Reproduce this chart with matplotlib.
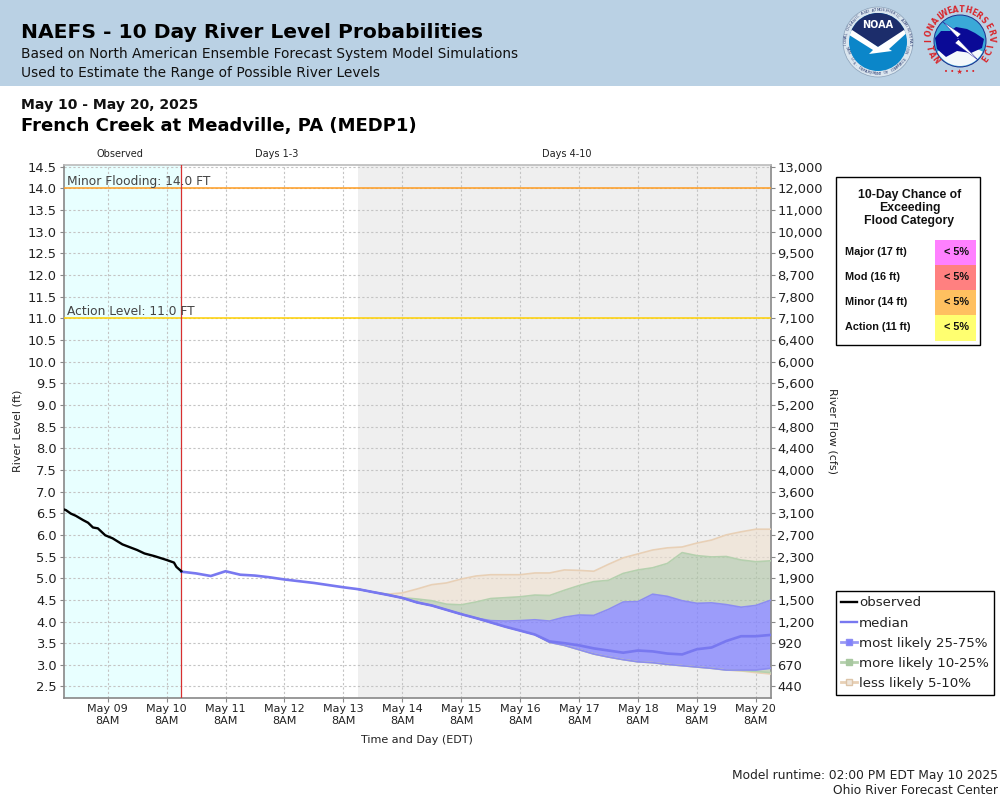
import numpy as np
import pandas as pd
import matplotlib
matplotlib.use('Agg')
import matplotlib.pyplot as plt
from matplotlib.lines import Line2D
from matplotlib.patches import Rectangle, Circle, Polygon, Wedge

# observed stage, hours after May 8 2PM
obs_hours = [0, 1, 3, 5, 8, 10, 12, 14, 17, 20, 24, 30, 33, 37, 42, 45, 46, 48]
obs_level = [6.59, 6.57, 6.49, 6.44, 6.34, 6.28, 6.17, 6.15, 5.99, 5.92, 5.78, 5.65,
             5.57, 5.51, 5.42, 5.36, 5.26, 5.16]

# 6 hourly forecast from May 10 2PM
median = [5.15, 5.11, 5.05, 5.16, 5.08, 5.06, 5.02, 4.97, 4.93, 4.89, 4.84, 4.79,
          4.746, 4.68, 4.615, 4.545, 4.44, 4.37, 4.27, 4.17, 4.08, 3.98, 3.88, 3.79, 3.70,
          3.54, 3.50, 3.45, 3.38, 3.33, 3.28, 3.33, 3.31, 3.26, 3.24, 3.36, 3.40, 3.55,
          3.66, 3.66, 3.69]

# ensemble bands start May 13 2PM
p95 = [4.746, 4.68, 4.63, 4.66, 4.75, 4.85, 4.89, 4.98, 5.05, 5.08, 5.08, 5.08, 5.12, 5.12,
       5.19, 5.18, 5.16, 5.32, 5.47, 5.56, 5.65, 5.70, 5.72, 5.81, 5.88, 6.00, 6.07, 6.13, 6.13]
p90 = [4.746, 4.68, 4.63, 4.55, 4.52, 4.48, 4.40, 4.385, 4.45, 4.53, 4.55, 4.57, 4.61, 4.60,
       4.72, 4.83, 4.92, 4.95, 5.11, 5.19, 5.24, 5.34, 5.59, 5.52, 5.49, 5.50, 5.42, 5.38, 5.40]
p75 = [4.746, 4.68, 4.615, 4.545, 4.44, 4.37, 4.27, 4.17, 4.08, 4.02, 4.01, 4.02, 4.04, 4.01,
       4.10, 4.15, 4.14, 4.28, 4.45, 4.46, 4.63, 4.58, 4.48, 4.42, 4.43, 4.39, 4.33, 4.37, 4.49]
p25 = [4.746, 4.68, 4.615, 4.545, 4.44, 4.37, 4.27, 4.17, 4.08, 3.98, 3.88, 3.79, 3.70, 3.52,
       3.45, 3.35, 3.25, 3.18, 3.12, 3.07, 3.05, 3.01, 2.98, 2.95, 2.92, 2.88, 2.88, 2.88, 2.92]
p10 = [4.746, 4.68, 4.615, 4.545, 4.44, 4.37, 4.27, 4.17, 4.08, 3.98, 3.88, 3.79, 3.70, 3.52,
       3.45, 3.35, 3.25, 3.18, 3.12, 3.07, 3.05, 3.01, 2.98, 2.95, 2.92, 2.88, 2.87, 2.85, 2.82]
p05 = [4.746, 4.68, 4.615, 4.545, 4.44, 4.37, 4.27, 4.17, 4.08, 3.98, 3.88, 3.79, 3.70, 3.52,
       3.45, 3.35, 3.25, 3.18, 3.12, 3.07, 3.05, 3.01, 2.98, 2.95, 2.92, 2.88, 2.86, 2.82, 2.79]

stage_ticks = [14.5, 14.0, 13.5, 13.0, 12.5, 12.0, 11.5, 11.0, 10.5, 10.0, 9.5, 9.0, 8.5,
               8.0, 7.5, 7.0, 6.5, 6.0, 5.5, 5.0, 4.5, 4.0, 3.5, 3.0, 2.5]
flow_labels = ['13,000', '12,000', '11,000', '10,000', '9,500', '8,700', '7,800', '7,100',
               '6,400', '6,000', '5,600', '5,200', '4,800', '4,400', '4,000', '3,600',
               '3,100', '2,700', '2,300', '1,900', '1,500', '1,200', '920', '670', '440']

flood_names = ['Major (17 ft)', 'Mod (16 ft)', 'Minor (14 ft)', 'Action (11 ft)']
flood_chance = ['< 5%', '< 5%', '< 5%', '< 5%']
flood_colors = ['#ff80ff', '#ff8080', '#ffc060', '#ffff70']

start = pd.Timestamp('2025-05-08 14:00')
runtime = pd.Timestamp('2025-05-10 14:00')
band_start = pd.Timestamp('2025-05-13 14:00')
end = pd.Timestamp('2025-05-20 14:00')

obs_times = [start + pd.Timedelta(hours=h) for h in obs_hours]
fc_times = pd.date_range(runtime, end, freq='6h')
band_times = pd.date_range(band_start, end, freq='6h')
tick_times = pd.date_range('2025-05-09 08:00', '2025-05-20 08:00', freq='1D')

BLUE = '#7878f0'
W, H = 1000, 800

fig = plt.figure(figsize=(10, 8), dpi=100)

# everything outside the plot is placed in pixels on this overlay
ov = fig.add_axes([0, 0, 1, 1], zorder=5)
ov.set_xlim(0, W)
ov.set_ylim(H, 0)
ov.axis('off')
ov.patch.set_alpha(0)

ax = fig.add_axes([63.5 / W, 1 - 697.5 / H, 707 / W, 532.5 / H], zorder=2)
ax.set_xlim(start, end)
ax.set_ylim(2.246, 14.536)

ax.axvspan(start, runtime, color='#e8ffff', lw=0, zorder=0)
ax.axvspan(band_start, end, color='#efefef', lw=0, zorder=0)
ax.grid(True, color='#c4c4c4', ls=(0, (2, 2)), lw=0.8, zorder=1)
ax.set_axisbelow(True)

ax.fill_between(band_times, p90, p95, color='#efe0cf', alpha=0.6, lw=0, zorder=2)
ax.fill_between(band_times, p05, p10, color='#efe0cf', alpha=0.6, lw=0, zorder=2)
ax.fill_between(band_times, p75, p90, color='#aec5a4', alpha=0.6, lw=0, zorder=2)
ax.fill_between(band_times, p10, p25, color='#aec5a4', alpha=0.6, lw=0, zorder=2)
ax.fill_between(band_times, p25, p75, color='#8080ff', alpha=0.75, lw=0, zorder=2)
for vals in (p95, p05):
    ax.plot(band_times, vals, color='#e8d0b6', lw=1.2, zorder=3)
for vals in (p90, p10):
    ax.plot(band_times, vals, color='#b5d0ae', lw=1.2, zorder=3)
for vals in (p75, p25):
    ax.plot(band_times, vals, color='#8c8cf2', lw=1.2, zorder=3)

ax.axhline(14.0, color='#ff9c20', lw=1.1, zorder=4)
ax.axhline(11.0, color='#ffd000', lw=1.1, zorder=4)
ax.axvline(runtime, color='#d83030', lw=0.9, zorder=4)

ax.plot(fc_times, median, color=BLUE, lw=1.9, zorder=5, solid_joinstyle='miter')
ax.plot(obs_times, obs_level, color='black', lw=1.7, zorder=6)

ax.set_yticks(stage_ticks)
ax.set_yticklabels(['%.1f' % v for v in stage_ticks], fontsize=9.4, color='#222222')
ax.set_xticks(tick_times)
ax.set_xticklabels([t.strftime('%b %d') + '\n8AM' for t in tick_times], fontsize=8,
                   color='#222222', linespacing=1.2)
ax.tick_params(axis='both', length=3, width=0.8, color='#888888', pad=2)

for side in ('left', 'right', 'bottom'):
    ax.spines[side].set_color('#888888')
    ax.spines[side].set_linewidth(1.2)
ax.spines['top'].set_color('#bbbbbb')
ax.spines['top'].set_linewidth(1.2)

ax2 = ax.twinx()
ax2.set_ylim(ax.get_ylim())
ax2.set_yticks(stage_ticks)
ax2.set_yticklabels(flow_labels, fontsize=9.4, color='#222222')
ax2.tick_params(axis='y', length=3, width=0.8, color='#888888', pad=2)
for s in ax2.spines.values():
    s.set_visible(False)

ax.text(0.005, 14.0, 'Minor Flooding: 14.0 FT', transform=ax.get_yaxis_transform(),
        fontsize=8.85, color='#444444', va='bottom', zorder=7)
ax.text(0.005, 11.0, 'Action Level: 11.0 FT', transform=ax.get_yaxis_transform(),
        fontsize=8.85, color='#444444', va='bottom', zorder=7)

# header
ov.add_patch(Rectangle((0, 0), W, 86, color='#bad1e4', lw=0))
ov.text(21, 33, 'NAEFS - 10 Day River Level Probabilities', fontsize=14.6, fontweight='bold',
        va='center', color='black')
ov.text(21, 54, 'Based on North American Ensemble Forecast System Model Simulations',
        fontsize=9.95, va='center', color='#111111')
ov.text(21, 73, 'Used to Estimate the Range of Possible River Levels', fontsize=9.95,
        va='center', color='#111111')
ov.text(21, 105, 'May 10 - May 20, 2025', fontsize=10.1, fontweight='bold', va='center', color='#111111')
ov.text(21, 126, 'French Creek at Meadville, PA (MEDP1)', fontsize=12.95, fontweight='bold',
        va='center', color='black')


def ring_text(s, cx, cy, r, a0, a1, **kw):
    # letters along an arc, angles in degrees clockwise from the top
    for ch, a in zip(s, np.linspace(a0, a1, len(s))):
        t = np.radians(a)
        rot = -a if -95 < ((a + 180) % 360 - 180) < 95 else 180 - a
        ov.text(cx + r * np.sin(t), cy - r * np.cos(t), ch, rotation=rot, ha='center',
                va='center', rotation_mode='anchor', **kw)


# NOAA logo
nx, ny = 878, 42
ov.add_patch(Circle((nx, ny), 35, fc='#dbe6ef', ec='#8aa0b8', lw=0.5))
disc = Circle((nx, ny), 29, fc='#0b86c9', lw=0)
ov.add_patch(disc)
navy = Polygon([[845, 8], [911, 8], [911, 27], [878, 47], [845, 27]], fc='#1c2d6b', lw=0)
ov.add_patch(navy)
navy.set_clip_path(disc)
bird = Polygon([[846, 26], [878, 47], [910, 26], [910, 30], [889, 49], [892, 51], [869, 54],
                [873, 50], [846, 33]], fc='white', lw=0)
ov.add_patch(bird)
bird.set_clip_path(disc)
ov.text(nx, 25, 'NOAA', color='white', fontsize=7, fontweight='bold', ha='center', va='center')
ring_text('NATIONAL OCEANIC AND ATMOSPHERIC ADMINISTRATION', nx, ny, 32, -108, 108,
          fontsize=2.8, color='#2a3a70')
ring_text('U.S. DEPARTMENT OF COMMERCE', nx, ny, 32, 238, 122, fontsize=2.8, color='#2a3a70')

# NWS logo
wx, wy = 960, 41
sky = Circle((wx, wy), 26, fc='#3aa9d8', ec='#1c2d8b', lw=0.7)
ov.add_patch(sky)
ov.add_patch(Wedge((wx, wy), 25, 25, 155, fc='#f4f8fb', lw=0))
ov.add_patch(Polygon([[935, 38], [941, 31], [950, 31], [956, 27], [967, 29], [975, 33], [984, 39],
                      [982, 48], [971, 53], [957, 51], [946, 57], [937, 49]], fc='#0a0a96', lw=0))
ov.add_patch(Polygon([[943, 22], [961, 34], [957, 38], [978, 60], [955, 43], [959, 39]],
                     fc='white', ec='#0a0a96', lw=0.3))
ring_text('NATIONAL', wx, wy, 31.5, -128, -38, fontsize=5.6, fontweight='bold', color='#d8262c')
ring_text('WEATHER', wx, wy, 31.5, -30, 36, fontsize=5.6, fontweight='bold', color='#d8262c')
ring_text('SERVICE', wx, wy, 31.5, 48, 125, fontsize=5.6, fontweight='bold', color='#d8262c')
ov.text(wx, 72, '\u2022 \u2022 \u2605 \u2022 \u2022', color='#d8262c', fontsize=5, ha='center', va='center')

# period labels and axis titles
ov.text(120, 154, 'Observed', fontsize=7, ha='center', va='center', color='#222222')
ov.text(277, 154, 'Days 1-3', fontsize=7, ha='center', va='center', color='#222222')
ov.text(567, 154, 'Days 4-10', fontsize=7, ha='center', va='center', color='#222222')
ov.text(18, 431, 'River Level (ft)', fontsize=8, rotation=90, ha='center', va='center', color='#222222')
ov.text(832, 431, 'River Flow (cfs)', fontsize=8, rotation=-90, ha='center', va='center', color='#222222')
ov.text(417, 740, 'Time and Day (EDT)', fontsize=8, ha='center', va='center', color='#222222')

ov.text(998, 775, 'Model runtime: 02:00 PM EDT May 10 2025', fontsize=8.83, ha='right', va='center', color='#222222')
ov.text(998, 791, 'Ohio River Forecast Center', fontsize=8.83, ha='right', va='center', color='#222222')

# flood category panel
ov.add_patch(Rectangle((836, 176.5), 144, 168.5, fc='white', ec='black', lw=1))
for i, line in enumerate(['10-Day Chance of', 'Exceeding', 'Flood Category']):
    ov.text(909.5, 195 + 13 * i, line, family='Liberation Sans', fontweight='bold', fontsize=8.8,
            ha='center', va='center', color='#111111')
for i, name in enumerate(flood_names):
    y0 = 240 + 25 * i
    ov.add_patch(Rectangle((935, y0), 41, 25.5, fc=flood_colors[i], lw=0))
    ov.text(845, y0 + 12, name, family='Liberation Sans', fontweight='bold', fontsize=7.8,
            va='center', color='#111111')
    ov.text(957, y0 + 12, flood_chance[i], family='Liberation Sans', fontweight='bold', fontsize=7.8,
            ha='center', va='center', color='#111111')

# legend
handles = [
    Line2D([], [], color='black', lw=1.7),
    Line2D([], [], color=BLUE, lw=1.7),
    Line2D([], [], color='#9a9af5', lw=2, marker='s', ms=5, mfc='#8080ff', mec='#8c8cf2'),
    Line2D([], [], color='#b5d0ae', lw=2, marker='s', ms=5, mfc='#a8c8a0', mec='#a8c8a0'),
    Line2D([], [], color='#e8d0b6', lw=2, marker='s', ms=5, mfc='#efe6dc', mec='#dcc4a8'),
]
labels = ['observed', 'median', 'most likely 25-75%', 'more likely 10-25%', 'less likely 5-10%']
leg = ov.legend(handles, labels, loc='upper left', bbox_to_anchor=(835.5 / W, 1 - 591 / H),
                bbox_transform=fig.transFigure, fontsize=9.6, frameon=True, fancybox=False,
                edgecolor='black', framealpha=1, borderaxespad=0, borderpad=0.4,
                labelspacing=0.54, handlelength=1.2, handletextpad=0.15, labelcolor='#222222')
leg.get_frame().set_linewidth(1)

fig.savefig('out.png', dpi=100)
